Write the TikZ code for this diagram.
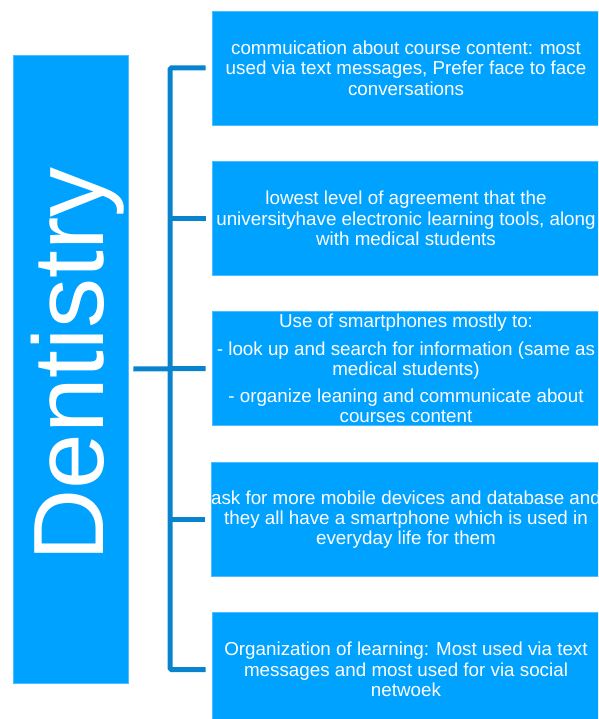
\documentclass[tikz,border=0pt]{standalone}
\usepackage{fontspec}
\setmainfont{Liberation Sans}
\definecolor{boxblue}{RGB}{0,162,255}
\definecolor{linkblue}{RGB}{8,132,206}
\begin{document}
\begin{tikzpicture}[x=1pt,y=-1pt,
  topic/.style={fill=boxblue, draw=boxblue!70!white, line width=0.6pt, inner sep=0pt,
    minimum width=115pt, minimum height=628pt},
  item/.style={fill=boxblue, draw=boxblue!70!white, line width=0.6pt, inner sep=0pt,
    minimum width=388pt, minimum height=114pt, text=white, align=center,
    font=\fontsize{18.8}{20.3}\selectfont},
  conn/.style={draw=linkblue, line width=5pt, rounded corners=1.5pt}]
\useasboundingbox (0,0) rectangle (598,719);
\clip (0,0) rectangle (598,719);

% left topic column
\node[topic] (main) at (70.5,369) {};
\node[text=white, rotate=90, anchor=base, inner sep=0pt,
  font=\fontsize{100}{100}\selectfont] (title) at (103,364.5) {Dentistry};

% right-hand items
\node[item] (b1) at (406,68) {commuication about course content: most\\used via text messages, Prefer face to face\\conversations};
\node[item] (b2) at (406,218.5) {lowest level of agreement that the\\universityhave electronic learning tools, along\\with medical students};
\node[item] (b3) at (406,368.5) {Use of smartphones mostly to:\\[7pt]- look up and search for information (same as\\medical students)\\[6.5pt]- organize leaning and communicate about\\courses content};
\node[item] (b4) at (406,519.5) {ask for more mobile devices and database and\\they all have a smartphone which is used in\\everyday life for them};
\node[item] (b5) at (406,669.5) {Organization of learning: Most used via text\\messages and most used for via social\\netwoek};

% bracket connector
\coordinate (spine) at (170,369);
\draw[conn] ([xshift=-6pt]b1.west) -| (spine |- b5.west) -- ([xshift=-6pt]b5.west);
\draw[conn] (spine |- b2.west) -- ([xshift=-6pt]b2.west);
\draw[conn] (spine |- b4.west) -- ([xshift=-6pt]b4.west);
\draw[conn] ([xshift=5pt]main.east) -- ([xshift=-6pt]b3.west);
\end{tikzpicture}
\end{document}
